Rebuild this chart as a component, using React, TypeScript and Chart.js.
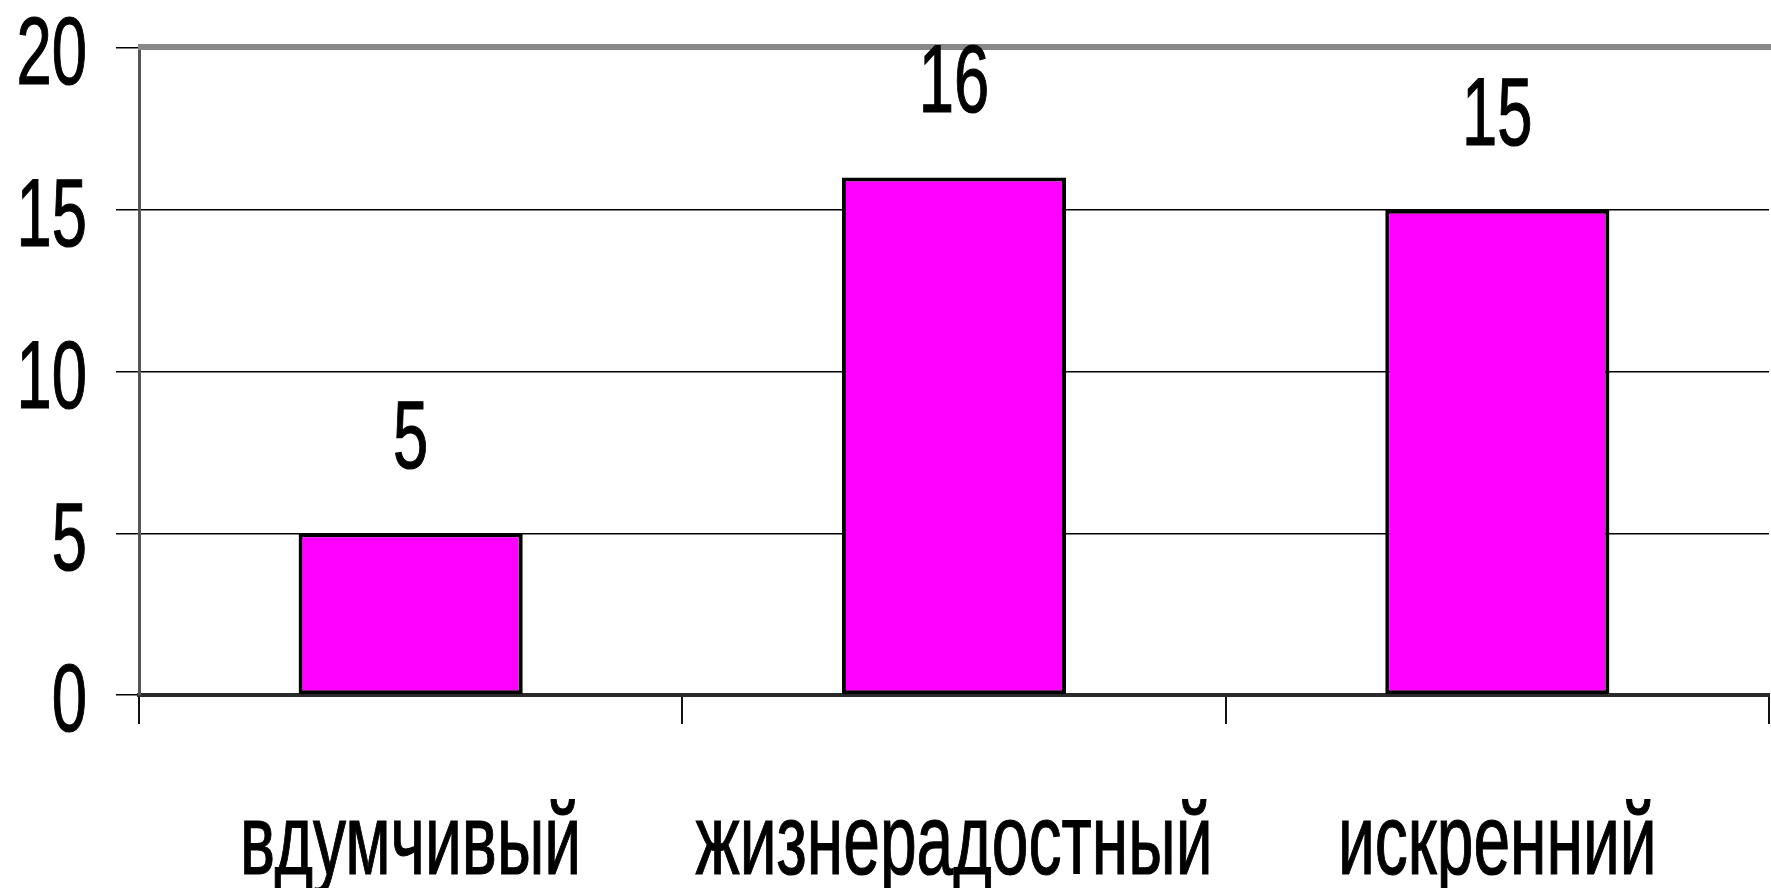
import React, { useEffect, useRef } from "react";
import { Chart, registerables } from "chart.js";

Chart.register(...registerables);

const categories: string[] = ["вдумчивый", "жизнерадостный", "искренний"];
const values: number[] = [5, 16, 15];
const yTickValues: number[] = [0, 5, 10, 15, 20];

const FONT = '"Liberation Sans", Arial, sans-serif';
const SX = 0.66;

function condensedText(
  ctx: CanvasRenderingContext2D,
  text: string,
  x: number,
  y: number,
  size: number,
  align: CanvasTextAlign
) {
  ctx.save();
  ctx.translate(x, y);
  ctx.scale(SX, 1);
  ctx.font = `${size}px ${FONT}`;
  ctx.fillStyle = "#000";
  ctx.strokeStyle = "#000";
  ctx.lineWidth = 1.2;
  ctx.textAlign = align;
  ctx.textBaseline = "alphabetic";
  ctx.fillText(text, 0, 0);
  ctx.strokeText(text, 0, 0);
  ctx.restore();
}

const textPlugin = {
  id: "condensedLabels",
  afterDraw(chart: any) {
    const ctx: CanvasRenderingContext2D = chart.ctx;
    const { left, right, top } = chart.chartArea;
    const xs = chart.scales.x;
    const ys = chart.scales.y;

    // plot area top border (grey)
    ctx.save();
    ctx.strokeStyle = "#888888";
    ctx.lineWidth = 6;
    ctx.beginPath();
    ctx.moveTo(left - 1, top - 1);
    ctx.lineTo(right + 2, top - 1);
    ctx.stroke();
    ctx.restore();

    // y tick labels
    const digitSize = 96;
    yTickValues.forEach((v) => {
      const y = ys.getPixelForValue(v);
      condensedText(ctx, String(v), 87, y + 2 + 0.358 * digitSize, digitSize, "right");
    });

    // data labels
    const meta = chart.getDatasetMeta(0);
    meta.data.forEach((bar: any, i: number) => {
      condensedText(ctx, String(values[i]), bar.x, bar.y - 65, digitSize, "center");
    });

    // category labels
    categories.forEach((c, i) => {
      const x = xs.getPixelForValue(i);
      condensedText(ctx, c, x, 874, 100, "center");
    });
  },
};

export default function App() {
  const ref = useRef<HTMLCanvasElement | null>(null);

  useEffect(() => {
    if (!ref.current) return;
    const chart = new Chart(ref.current, {
      type: "bar",
      data: {
        labels: categories,
        datasets: [
          {
            data: values,
            backgroundColor: "#ff00ff",
            borderColor: "#000000",
            borderWidth: 4,
            borderSkipped: false,
            categoryPercentage: 1,
            barPercentage: 0.4125,
          },
        ],
      },
      options: {
        responsive: false,
        animation: false,
        layout: { padding: { top: 48, right: 2, left: 0, bottom: 0 } },
        plugins: {
          legend: { display: false },
          tooltip: { enabled: false },
          title: { display: false },
        },
        scales: {
          x: {
            type: "category",
            offset: true,
            grid: {
              display: true,
              offset: true,
              drawOnChartArea: false,
              drawTicks: true,
              tickLength: 29,
              color: "#111",
              lineWidth: 2,
            },
            border: { display: true, color: "#2a2a2a", width: 4 },
            ticks: { display: false },
            afterFit: (s: any) => {
              s.height = 888 - 695;
            },
          },
          y: {
            min: 0,
            max: 20,
            afterBuildTicks: (s: any) => {
              s.ticks = yTickValues.map((v) => ({ value: v }));
            },
            grid: {
              display: true,
              drawTicks: true,
              tickLength: 23,
              color: "#000000",
              lineWidth: 1.5,
            },
            border: { display: true, color: "#555555", width: 3 },
            ticks: { display: false },
            afterFit: (s: any) => {
              s.width = 139;
            },
          },
        },
      },
      plugins: [textPlugin],
    });
    return () => chart.destroy();
  }, []);

  return (
    <div style={{ position: "fixed", left: 0, top: 0, width: 1771, height: 888, background: "#fff" }}>
      <canvas ref={ref} width={1771} height={888} style={{ display: "block" }} />
    </div>
  );
}
